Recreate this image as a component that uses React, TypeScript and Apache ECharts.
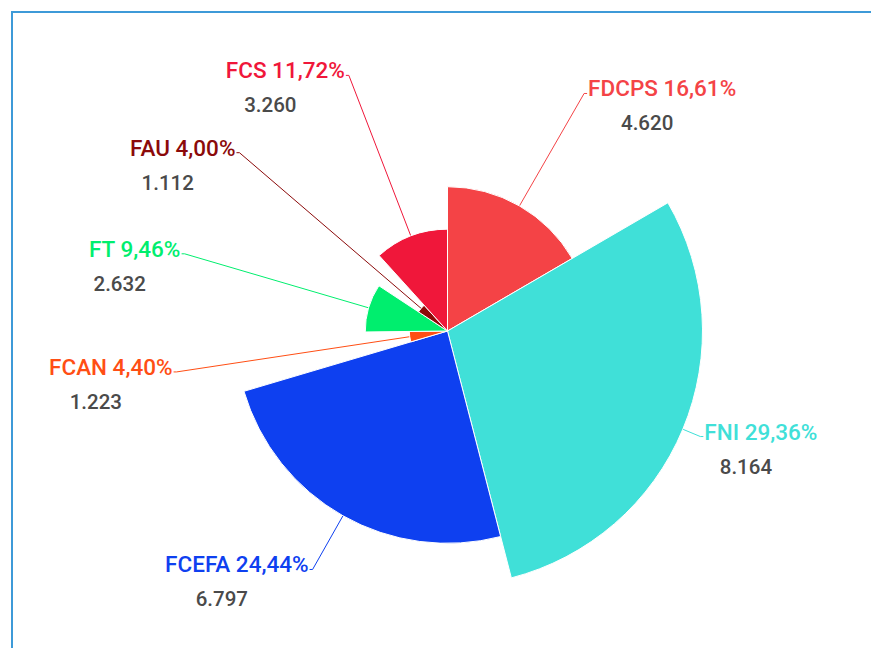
import React, { useEffect, useRef } from 'react';
import * as echarts from 'echarts';

const names = ['FDCPS', 'FNI', 'FCEFA', 'FCAN', 'FT', 'FAU', 'FCS'];
const values = [4620, 8164, 6797, 1223, 2632, 1112, 3260];
const colors = ['#F44346', '#40E0D8', '#0E40F0', '#FF4E14', '#00EE6E', '#8B0A0A', '#F0173A'];

const total = values.reduce((a, b) => a + b, 0);
const fmtValue = (v: number) => String(v).replace(/\B(?=(\d{3})+(?!\d))/g, '.');
const fmtPct = (v: number) => ((v / total) * 100).toFixed(2).replace('.', ',') + '%';

export default function App() {
  const ref = useRef<HTMLDivElement>(null);
  useEffect(() => {
    if (!ref.current) return;
    const chart = echarts.init(ref.current, undefined, { renderer: 'svg' });
    const rich: Record<string, any> = {
      v: {
        color: '#4a4a4a',
        fontSize: 20.5,
        fontWeight: 500,
        fontFamily: 'Roboto',
        lineHeight: 40,
        align: 'center',
        padding: [0, 30, 0, 0],
      },
    };
    names.forEach((n, i) => {
      rich['n' + i] = {
        color: colors[i],
        fontSize: 22.5,
        fontWeight: 500,
        fontFamily: 'Roboto',
        lineHeight: 30,
        align: 'center',
      };
    });
    chart.setOption({
      animation: false,
      graphic: [
        {
          type: 'rect',
          shape: { x: 12, y: 12, width: 1200, height: 1200 },
          style: { fill: 'none', stroke: '#3d9ad8', lineWidth: 2 },
          silent: true,
        },
      ],
      series: [
        {
          type: 'pie',
          roseType: 'radius',
          center: [447.5, 331],
          radius: [0, 255],
          startAngle: 90,
          clockwise: true,
          avoidLabelOverlap: false,
          itemStyle: { borderColor: '#ffffff', borderWidth: 1 },
          label: {
            show: true,
            position: 'outside',
            distanceToLabelLine: 1,
            padding: [30, 0, 0, 0],
            formatter: (p: any) =>
              `{n${p.dataIndex}|${p.name} ${fmtPct(p.value)}}\n{v|${fmtValue(p.value)}}`,
            rich,
          },
          labelLine: { show: true, length: 19, length2: 3, lineStyle: { width: 1 } },
          data: names.map((n, i) => ({ name: n, value: values[i], itemStyle: { color: colors[i] } })),
        },
      ],
    });
    return () => chart.dispose();
  }, []);
  return (
    <div
      ref={ref}
      style={{ position: 'absolute', left: 0, top: 0, width: 871, height: 648, background: '#fff' }}
    />
  );
}
